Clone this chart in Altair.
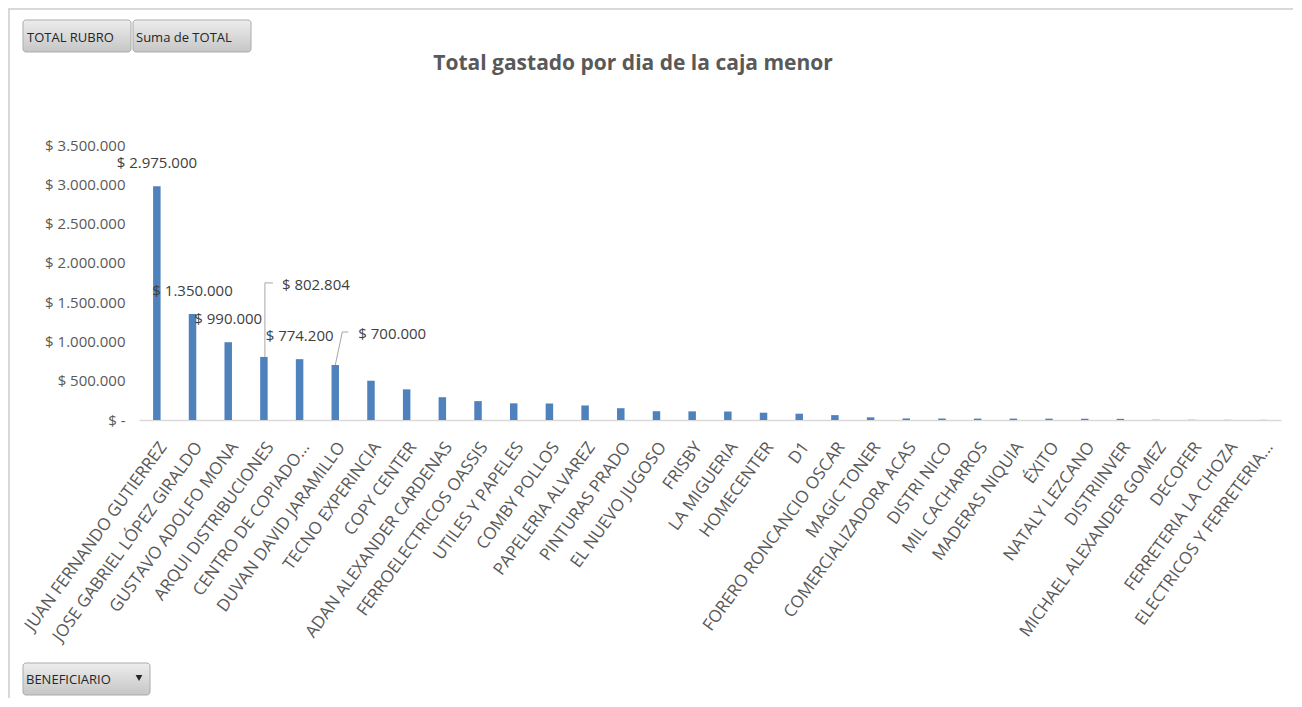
import altair as alt
import pandas as pd

# ---------------- data ----------------
beneficiarios = [
    "JUAN FERNANDO GUTIERREZ", "JOSE GABRIEL LÓPEZ GIRALDO", "GUSTAVO ADOLFO MONA",
    "ARQUI DISTRIBUCIONES", "CENTRO DE COPIADO...", "DUVAN DAVID JARAMILLO",
    "TECNO EXPERINCIA", "COPY CENTER", "ADAN ALEXANDER CARDENAS",
    "FERROELECTRICOS OASSIS", "UTILES Y PAPELES", "COMBY POLLOS",
    "PAPELERIA ALVAREZ", "PINTURAS PRADO", "EL NUEVO JUGOSO", "FRISBY",
    "LA MIGUERIA", "HOMECENTER", "D1", "FORERO RONCANCIO OSCAR", "MAGIC TONER",
    "COMERCIALIZADORA ACAS", "DISTRI NICO", "MIL CACHARROS", "MADERAS NIQUIA",
    "ÉXITO", "NATALY LEZCANO", "DISTRIINVER", "MICHAEL ALEXANDER GOMEZ",
    "DECOFER", "FERRETERIA LA CHOZA", "ELECTRICOS Y FERRETERIA...",
]
totales = [
    2975000, 1350000, 990000, 802804, 774200, 700000,
    500000, 390000, 290000, 240000, 212000, 210000,
    185000, 150000, 112000, 110000, 108000, 93000, 80000, 62000, 34000,
    20000, 19000, 18000, 18000, 17000, 16000, 15000,
    3000, 2500, 2000, 1500,
]
y_ticks = [0, 500000, 1000000, 1500000, 2000000, 2500000, 3000000, 3500000]
titulo = "Total gastado por dia de la caja menor"
boton_1 = "TOTAL RUBRO"
boton_2 = "Suma de TOTAL"
boton_campo = "BENEFICIARIO"
etiquetas_con_guia = ["ARQUI DISTRIBUCIONES", "DUVAN DAVID JARAMILLO"]
n_etiquetas = 6

df = pd.DataFrame({
    "BENEFICIARIO": beneficiarios,
    "TOTAL": totales,
    "orden": list(range(len(beneficiarios))),
})

# ---------------- styling ----------------
W, H = 1142, 275
FONT = "Open Sans"
BAR = "#4F81BD"
GRAY_TXT = "#595959"
LBL_TXT = "#404040"
LEADER = "#a6a6a6"

fmt_expr = "'$ ' + replace(format(datum.TOTAL, ',.0f'), regexp(',', 'g'), '.')"
y_label_expr = ("datum.value == 0 ? '$ -\u00a0\u00a0' : '$ ' + "
                "replace(format(datum.value, ',.0f'), regexp(',', 'g'), '.')")

x_axis = alt.Axis(
    title=None, labelAngle=-54, labelAlign="right", labelBaseline="top",
    labelFont=FONT, labelFontSize=17, labelColor=GRAY_TXT, labelPadding=19,
    ticks=False, domainColor="#d9d9d9", domainWidth=1.5,
    labelLimit=400, labelOverlap=False,
)
y_axis = alt.Axis(
    title=None, values=y_ticks, labelExpr=y_label_expr, domain=False,
    ticks=False, tickSize=0, grid=False, labelPadding=14, labelOverlap=False,
    labelFont=FONT, labelFontSize=15, labelColor=GRAY_TXT,
)
x_scale = alt.Scale(paddingInner=0.79, paddingOuter=0.395)
y_scale = alt.Scale(domain=[0, 3500000], nice=False)

x_enc = alt.X("BENEFICIARIO:N", sort=beneficiarios, scale=x_scale, axis=x_axis)
y_enc = alt.Y("TOTAL:Q", scale=y_scale, axis=y_axis)
x2_enc = alt.X2("BENEFICIARIO:N")
y2_enc = alt.Y2("TOTAL:Q")

base = alt.Chart(df).transform_calculate(etiqueta=fmt_expr)

bars = base.mark_bar(color=BAR).encode(x=x_enc, y=y_enc)

not_special = " && ".join(f"datum.BENEFICIARIO != '{n}'" for n in etiquetas_con_guia)
labels = base.transform_filter(f"datum.orden < {n_etiquetas} && {not_special}").mark_text(
    dy=-23, baseline="middle", font=FONT, fontSize=15, color=LBL_TXT
).encode(x=x_enc, y=y_enc, text="etiqueta:N")

fa = base.transform_filter(f"datum.BENEFICIARIO == '{etiquetas_con_guia[0]}'")
fb = base.transform_filter(f"datum.BENEFICIARIO == '{etiquetas_con_guia[1]}'")

lab_a = fa.mark_text(
    align="left", baseline="middle", dx=18, dy=-72, font=FONT, fontSize=15, color=LBL_TXT
).encode(x=x_enc, y=y_enc, text="etiqueta:N")
lab_b = fb.mark_text(
    align="left", baseline="middle", dx=23, dy=-31, font=FONT, fontSize=15, color=LBL_TXT
).encode(x=x_enc, y=y_enc, text="etiqueta:N")

guide_a1 = fa.mark_rule(color=LEADER, strokeWidth=1, xOffset=1, y2Offset=-74).encode(
    x=x_enc, y=y_enc, y2=y2_enc)
guide_a2 = fa.mark_rule(color=LEADER, strokeWidth=1, xOffset=1, x2Offset=9, yOffset=-74).encode(
    x=x_enc, x2=x2_enc, y=y_enc)
guide_b1 = fb.mark_rule(color=LEADER, strokeWidth=1, x2Offset=7, y2Offset=-33).encode(
    x=x_enc, x2=x2_enc, y=y_enc, y2=y2_enc)
guide_b2 = fb.mark_rule(color=LEADER, strokeWidth=1, xOffset=7, x2Offset=13, yOffset=-33).encode(
    x=x_enc, x2=x2_enc, y=y_enc)

# ---------------- decorations (title, frame, pivot buttons) ----------------
deco = alt.Chart(pd.DataFrame({"k": [0]}))

title = deco.mark_text(
    align="center", baseline="middle", font=FONT, fontSize=21, fontWeight="bold", color=GRAY_TXT
).encode(x=alt.value(494), y=alt.value(-81), text=alt.value(titulo))

frame_left = deco.mark_rule(color="#d9d9d9", strokeWidth=2).encode(
    x=alt.value(-130), y=alt.value(-137), y2=alt.value(553))
frame_top = deco.mark_rule(color="#d9d9d9", strokeWidth=2).encode(
    x=alt.value(-131), x2=alt.value(1160), y=alt.value(-136))

grad = alt.Gradient(
    gradient="linear",
    stops=[alt.GradientStop(color="#ededed", offset=0), alt.GradientStop(color="#c6c6c6", offset=1)],
    x1=0, x2=0, y1=0, y2=1,
)

def button(x0, x1, y0, y1):
    return deco.mark_rect(fill=grad, stroke="#ababab", strokeWidth=1, cornerRadius=3).encode(
        x=alt.value(x0), x2=alt.value(x1), y=alt.value(y0), y2=alt.value(y1))

def btext(txt, x0, yc):
    return deco.mark_text(align="left", baseline="middle", font=FONT, fontSize=13, color="#262626").encode(
        x=alt.value(x0), y=alt.value(yc), text=alt.value(txt))

b1 = button(-116, -8, -125, -93)
b2 = button(-6, 112, -125, -93)
b3 = button(-116, 11, 518, 550)
t1 = btext(boton_1, -112, -107)
t2 = btext(boton_2, -3, -107)
t3 = btext(boton_campo, -113, 535)
tri = deco.mark_point(shape="triangle-down", filled=True, color="#262626", size=45, opacity=1).encode(
    x=alt.value(0), y=alt.value(533))

chart = alt.layer(
    frame_left, frame_top, bars, labels, lab_a, lab_b,
    guide_a1, guide_a2, guide_b1, guide_b2,
    title, b1, b2, b3, t1, t2, t3, tri,
).properties(
    width=W, height=H,
    autosize=alt.AutoSizeParams(type="none"),
    padding={"left": 131, "top": 137, "right": 12, "bottom": 278},
).configure_view(stroke=None)

chart.save("out.html", embed_options={"renderer": "svg", "actions": False})
